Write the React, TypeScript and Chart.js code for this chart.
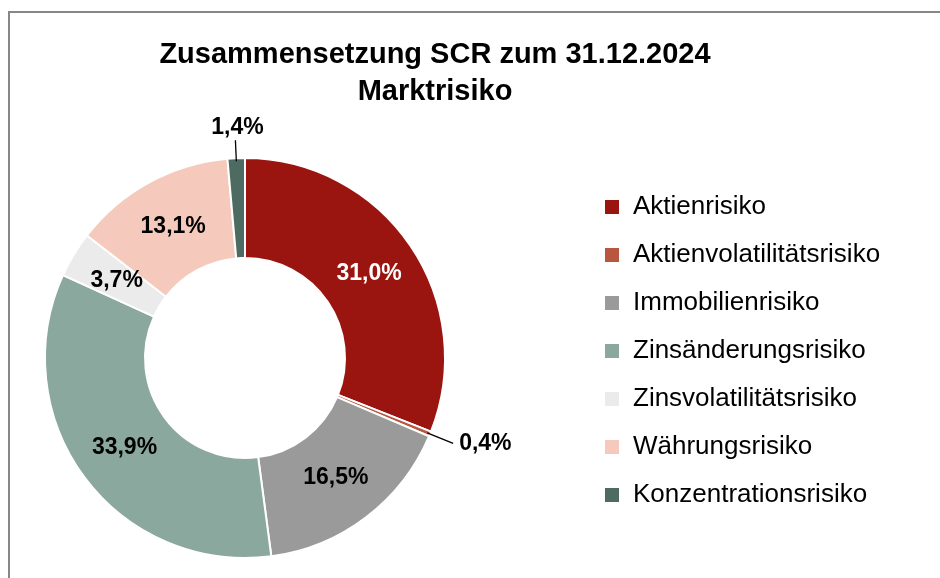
import { useEffect, useRef } from 'react';
import { Chart, registerables } from 'chart.js';

Chart.register(...registerables);

const categories = [
  'Aktienrisiko',
  'Aktienvolatilitätsrisiko',
  'Immobilienrisiko',
  'Zinsänderungsrisiko',
  'Zinsvolatilitätsrisiko',
  'Währungsrisiko',
  'Konzentrationsrisiko',
];
const shares = [31.0, 0.4, 16.5, 33.9, 3.7, 13.1, 1.4];
const sliceColors = ['#9A1510', '#B85640', '#9A9A9A', '#8AA89D', '#EBEBEB', '#F5CABD', '#4D6B61'];
const titleLines = ['Zusammensetzung SCR zum 31.12.2024', 'Marktrisiko'];

const FONT = "'Liberation Sans', Arial, Helvetica, sans-serif";
const fmt = (v: number) => v.toFixed(1).replace('.', ',') + '%';

function luminance(hex: string) {
  const n = parseInt(hex.slice(1), 16);
  const r = (n >> 16) & 255, g = (n >> 8) & 255, b = n & 255;
  return (0.299 * r + 0.587 * g + 0.114 * b) / 255;
}

const framePlugin = {
  id: 'frame',
  beforeDraw(chart: any) {
    const ctx = chart.ctx;
    ctx.save();
    ctx.fillStyle = '#FFFFFF';
    ctx.fillRect(0, 0, chart.width, chart.height);
    ctx.fillStyle = '#878787';
    ctx.fillRect(8, 11, chart.width, 2);
    ctx.fillRect(8, 11, 2, chart.height);
    ctx.restore();
  },
};

const titlePlugin = {
  id: 'customTitle',
  afterDraw(chart: any) {
    const ctx = chart.ctx;
    ctx.save();
    ctx.font = `bold 29px ${FONT}`;
    ctx.fillStyle = '#000000';
    ctx.textAlign = 'center';
    ctx.textBaseline = 'middle';
    titleLines.forEach((line, i) => ctx.fillText(line, 435, 55 + i * 37));
    ctx.restore();
  },
};

const legendPlugin = {
  id: 'sideLegend',
  afterDraw(chart: any) {
    const ctx = chart.ctx;
    const labels = chart.data.labels as string[];
    const colors = chart.data.datasets[0].backgroundColor as string[];
    ctx.save();
    ctx.font = `26px ${FONT}`;
    ctx.textAlign = 'left';
    ctx.textBaseline = 'middle';
    labels.forEach((label, i) => {
      const cy = 207 + i * 48;
      ctx.fillStyle = colors[i];
      ctx.fillRect(605, cy - 7, 14, 14);
      ctx.fillStyle = '#000000';
      ctx.fillText(label, 633, cy);
    });
    ctx.restore();
  },
};

const labelPlugin = {
  id: 'sliceLabels',
  afterDatasetsDraw(chart: any) {
    const ctx = chart.ctx;
    const meta = chart.getDatasetMeta(0);
    const values = chart.data.datasets[0].data as number[];
    ctx.save();
    ctx.font = `bold 23px ${FONT}`;
    meta.data.forEach((arc: any, i: number) => {
      const { x, y, startAngle, endAngle, innerRadius, outerRadius } = arc.getProps(
        ['x', 'y', 'startAngle', 'endAngle', 'innerRadius', 'outerRadius'],
        true
      );
      const mid = (startAngle + endAngle) / 2;
      const cos = Math.cos(mid), sin = Math.sin(mid);
      const v = values[i];
      const text = fmt(v);
      if (v >= 2) {
        const r = (innerRadius + outerRadius) / 2;
        ctx.fillStyle = luminance(sliceColors[i]) < 0.35 ? '#FFFFFF' : '#000000';
        ctx.textAlign = 'center';
        ctx.textBaseline = 'middle';
        ctx.fillText(text, x + cos * r, y + sin * r);
      } else {
        const r0 = outerRadius - 3;
        const horizontal = Math.abs(cos) > 0.6;
        const r1 = outerRadius + (horizontal ? 25 : 18);
        const ex = x + cos * r1, ey = y + sin * r1;
        ctx.strokeStyle = '#000000';
        ctx.lineWidth = 1.3;
        ctx.beginPath();
        ctx.moveTo(x + cos * r0, y + sin * r0);
        ctx.lineTo(ex, ey);
        ctx.stroke();
        ctx.fillStyle = '#000000';
        if (horizontal) {
          ctx.textAlign = cos > 0 ? 'left' : 'right';
          ctx.textBaseline = 'middle';
          ctx.fillText(text, ex + (cos > 0 ? 6 : -6), ey);
        } else {
          ctx.textAlign = 'center';
          ctx.textBaseline = 'middle';
          ctx.fillText(text, ex + 2, ey + (sin < 0 ? -13 : 13));
        }
      }
    });
    ctx.restore();
  },
};

export default function App() {
  const ref = useRef<HTMLCanvasElement | null>(null);

  useEffect(() => {
    if (!ref.current) return;
    const chart = new Chart(ref.current, {
      type: 'doughnut',
      data: {
        labels: categories,
        datasets: [
          {
            data: shares,
            backgroundColor: sliceColors,
            borderColor: '#FFFFFF',
            borderWidth: 2,
            radius: 200,
            cutout: '50%',
          } as any,
        ],
      },
      options: {
        responsive: false,
        animation: false,
        devicePixelRatio: 1,
        layout: { padding: { left: 0, right: 450, top: 138, bottom: 0 } },
        font: { family: FONT },
        plugins: {
          title: { display: false },
          tooltip: { enabled: false },
          legend: { display: false },
        },
      } as any,
      plugins: [framePlugin, labelPlugin, titlePlugin, legendPlugin],
    });
    return () => chart.destroy();
  }, []);

  return (
    <div style={{ position: 'absolute', left: 0, top: 0, width: 940, height: 578, background: '#fff' }}>
      <canvas ref={ref} width={940} height={578} style={{ display: 'block' }} />
    </div>
  );
}
